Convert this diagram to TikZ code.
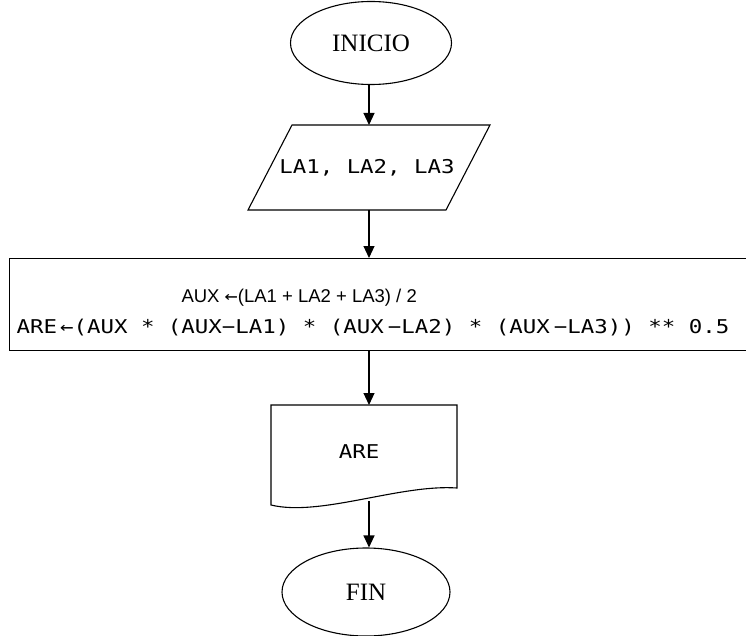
\documentclass[tikz,border=0pt]{standalone}
\usepackage{fontspec}
\setmainfont{Liberation Serif}
\newfontfamily\codefont[FakeStretch=1.18]{DejaVu Sans Mono}
\newfontfamily\helv{Liberation Sans}
\usetikzlibrary{shapes.geometric,arrows.meta}
\begin{document}
\begin{tikzpicture}[x=1pt,y=-1pt,
  line width=1.1pt,
  flow/.style={-{Triangle[length=12pt,width=11pt]}},
  term/.style={draw, ellipse, inner sep=0pt, font=\fontsize{25}{28}\selectfont},
  code/.style={font=\codefont\fontsize{19}{22}\selectfont, inner sep=0pt},
  plain/.style={font=\helv\fontsize{18.5}{20}\selectfont, inner sep=0pt},
]
\useasboundingbox (0,0) rectangle (746,636);
\clip (0,0) rectangle (746,636);

% start
\node (ini) [term, minimum width=161pt, minimum height=83pt] at (371,43) {INICIO};

% input parallelogram
\coordinate (inptop) at (369,125);
\coordinate (inpbot) at (369,210);
\draw (292,125) -- (490,125) -- (446,210) -- (248,210) -- cycle;
\node (inp) [code] at (367,168) {LA1, LA2, LA3};

% process box
\node (box) [draw, rectangle, anchor=north west, minimum width=800pt, minimum height=92pt, inner sep=0pt] at (9,258) {};
\node (l1) [plain, anchor=base west] at (181,302) {AUX {\codefont ←}(LA1 + LA2 + LA3) / 2};
\node (l2) [code, anchor=base west] at (16,333) {ARE\kern3pt←(AUX * (AUX−LA1) * (AUX\kern4pt−LA2) * (AUX\kern4pt−LA3)) ** 0.5};

% output document
\coordinate (doctop) at (369,405);
\coordinate (docbot) at (369,501);
\draw (271,405) -- (457,405) -- (457,488) .. controls (400,484) and (320,517) .. (271,505) -- cycle;
\node (out) [code] at (359,452) {ARE};

% end
\node (fin) [term, minimum width=168pt, minimum height=88pt] at (366,592) {FIN};

% connectors
\draw[flow] (ini.south -| inptop) -- (inptop);
\draw[flow] (inpbot) -- (inpbot |- box.north);
\draw[flow] (inpbot |- box.south) -- (doctop);
\draw[flow] (docbot) -- (docbot |- fin.north);
\end{tikzpicture}
\end{document}
